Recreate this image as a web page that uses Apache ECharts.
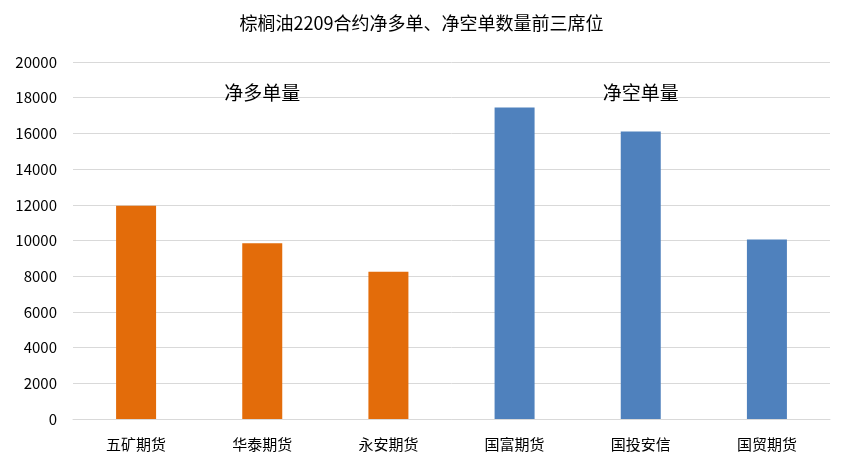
<!DOCTYPE html>
<html><head><meta charset="utf-8">
<script src="https://cdn.jsdelivr.net/npm/echarts@6/dist/echarts.min.js"></script>
<style>html,body{margin:0;padding:0;background:#fff}#c{width:843px;height:468px}</style>
</head><body><div id="c"></div>
<script>
const categories = ['五矿期货','华泰期货','永安期货','国富期货','国投安信','国贸期货'];
const longValues = [11950, 9850, 8250, null, null, null];
const shortValues = [null, null, null, 17450, 16100, 10050];
const yTicks = {min: 0, max: 20000, interval: 2000};
const font = '"Noto Sans CJK SC", sans-serif';
const chart = echarts.init(document.getElementById('c'));
chart.setOption({
  animation: false,
  textStyle: {fontFamily: font},
  title: {text: '棕榈油2209合约净多单、净空单数量前三席位', left: 'center', top: 9,
    textStyle: {fontSize: 18, fontWeight: 'normal', color: '#000', fontFamily: font}},
  grid: {left: 73, right: 13, top: 62, bottom: 49},
  xAxis: [
    {type: 'category', data: categories, axisTick: {show: false},
     axisLine: {lineStyle: {color: '#d9d9d9'}},
     axisLabel: {color: '#000', fontSize: 15, margin: 18}},
    {type: 'value', min: 0, max: 6, show: false}
  ],
  yAxis: {type: 'value', min: yTicks.min, max: yTicks.max, interval: yTicks.interval,
    axisLabel: {color: '#000', fontSize: 15, margin: 16, formatter: v => String(v)},
    axisLine: {show: false}, axisTick: {show: false},
    splitLine: {lineStyle: {color: '#d9d9d9'}}},
  series: [
    {type: 'bar', data: longValues, barWidth: 40, barGap: '-100%', itemStyle: {color: '#e36c0a'},
     markPoint: {symbol: 'rect', symbolSize: 1, itemStyle: {color: 'transparent'},
       label: {show: true, color: '#000', fontSize: 19, formatter: '净多单量'},
       data: [{coord: [1, 18250]}]}},
    {type: 'bar', data: shortValues, barWidth: 40, barGap: '-100%', itemStyle: {color: '#4f81bd'},
     markPoint: {symbol: 'rect', symbolSize: 1, itemStyle: {color: 'transparent'},
       label: {show: true, color: '#000', fontSize: 19, formatter: '净空单量'},
       data: [{coord: [4, 18250]}]}},
    {type: 'line', xAxisIndex: 1, data: [], clip: false,
     markLine: {symbol: 'none', silent: true, label: {show: false},
       lineStyle: {type: [5, 4], color: '#000', width: 1.5},
       data: [[{coord: [3, -2150]}, {coord: [3, 20000]}]]}}
  ]
});
</script></body></html>
